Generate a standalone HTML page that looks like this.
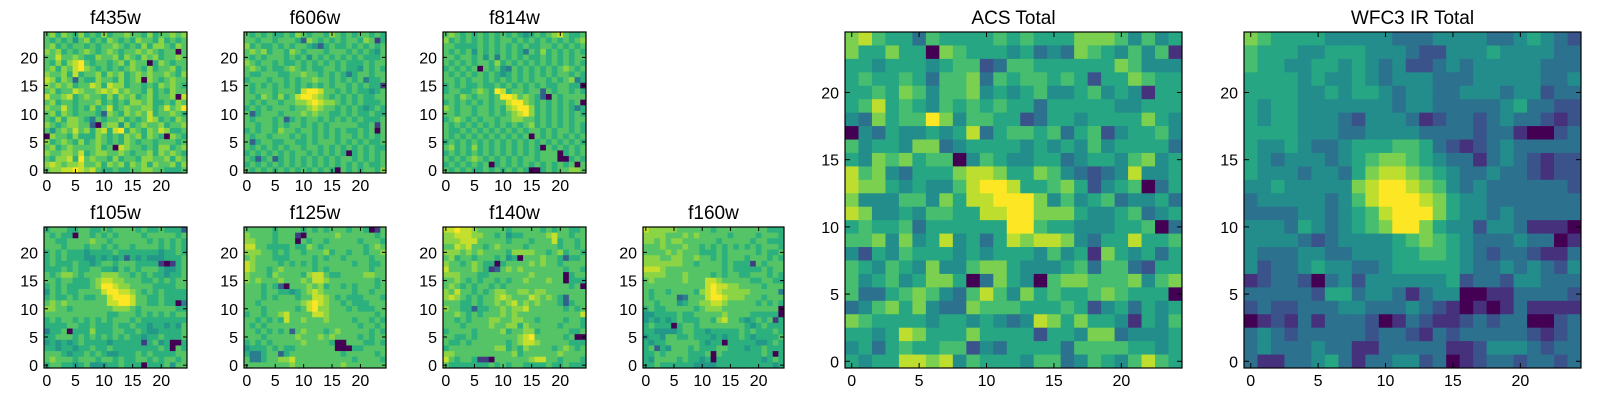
<!DOCTYPE html>
<html><head><meta charset="utf-8">
<style>
html,body{margin:0;padding:0;background:#fff;}
svg{display:block;font-family:"Liberation Sans",sans-serif;}
</style></head>
<body>
<svg id="fig" width="1600" height="400" viewBox="0 0 1600 400" xmlns="http://www.w3.org/2000/svg"></svg>
<script>
// Each panel: 25 rows (top row = y 24 ... bottom row = y 0), digits 0..9 = relative intensity
const tickValues = [0, 5, 10, 15, 20];
const bigTickValues = [0, 5, 10, 15, 20];
const panelTitles = ["f435w","f606w","f814w","f105w","f125w","f140w","f160w","ACS Total","WFC3 IR Total"];

const f435w = [
"6757657565756676657566767","6565646756576565766575656","6756566565667656575776576","7675656765676566767656606","6686676557667576576756676",
"6575789656656757660576566","6757689765656567657566756","7667585667576756767667657","8757626557665756707656766","7676756687587756656576765",
"6756687667878676657565766","8667856766575767567566708","6756656667565657767556576","7668656575685676677568679","6757656665276576768566765",
"6575776536566756568756576","7656776620677475676675667","6467686757858957657687556","0766575557656576757650765","7567657567656576566566656",
"6756766667560876656577567","7667768567766765667576765","6577859676657566577667576","7876778667576757675766757","6778898786556556677665556"];
const f606w = [
"6565655657656657656566565","6656656665276565656657615","7565565656654256556565656","6767566576566656665656546","6565666565646565656565556",
"7656656556565656565556566","6765655676565566565546565","6556665566766565653566566","5666566565667665656563556","6565656565656565665656551",
"6566656665899866565655456","6657657568998765656565566","6565665667789877656565556","5656566656678766565654565","6256665666767665565655655",
"6566656256566565656565556","6656656566565656666655616","5656657665665656565565606","6566566656565656566565656","6256655665565666565656556",
"6565656566566565656565655","5656565656656565650565656","6525625656565656566565656","5656565656565656565656556","6565656565656565065656657"];
const f814w = [
"6765656565656545656786556","7565656565665656565656567","6655556565656565566565656","6565646565656536575656565","6656656463656565565656566",
"6565656657565656565656565","5656560656436565656567656","6565656565456565656566565","6656566565656565665656735","5656556556565656565566550",
"5665567659856656626566565","6657656656998676520656666","5656565656689976565656560","7656656656578997565656535","6656656656567897565656565",
"5676565665667766565656566","6565656565656567565656565","6556565656565656656566565","6565656565656560656565656","5656565656565656565656565",
"6756575656565656506565656","5656565656565656566605656","6565676565656566566600565","5656565605656565656565606","6565655656565650056566776"];
const f105w = [
"5666556655656666565565552","6565506656565666656666656","6655666676656666665656565","6665666566565665666656565","5656555455556555555545565",
"5656555445454525454445556","5655565545665666555510156","5556565566554656566654456","6567765666777665656554556","6656655567887766655656566",
"5656555567998776666555566","4656556666899887656565555","5655656556689998665565555","6767666666688998665565503","7766566666667776566666655",
"6666666666655666565656566","5656656565656665655555555","5555665565556556554554546","3556055575556655654455556","5566656565656565545565556",
"4545456555545555515645005","5545545565565555555565065","6665455656544555656555566","6766656665665655665656656","5665545644455655505556466"];
const f125w = [
"6666656666565656665665016","7666656661066666766666656","7766656660656656666656665","8866555565576566666665676","7776656566566675665665667",
"6766655566665656656666566","8766665656565666666566556","8766567666665656666666566","7666576666578865566667766","7676667666768876666666656",
"6665652066676756656566656","6665665545678766666566566","6665656665668876565556665","6656666666789876656555666","6665666665689776665655566",
"5665667866668876666666656","6656565866766676666566565","6565666666666666666656656","6656565626766656766666565","6665666667666767666656566",
"5656566666766665006665565","4555656556666666000556666","5335662566666666656666656","6335667786666666666566665","6666666676666666676666666"];
const f140w = [
"8898876666656666656566556","7788877665645566667866566","7778886666656665666856656","6687866567666656666656656","7776767666657777665675665",
"6756656665645066676652556","7665676550566667676656666","8666676512676766666665665","7776665566666667666660566","6676565665656676667660555",
"6765656656566666666666560","7686656567766776776666666","7876565667876668767652666","6665565667678676766652566","7665525566767786666665656",
"6676565666767666666666668","6656566677667766566665665","6665666676677576666656665","5666656666756677566666556","6655656666666789666665600",
"6556566666656788766666555","5666666667756576666567656","7766666666667566666676666","8656651106666667886656665","6555555565656655556556555"];
const f160w = [
"8777776666665666666666555","7777666767666665666656665","7767677666666566666566555","6667666766565656565656665","6666767666555656666656556",
"7776677667665656665666565","7777777665666656555165666","8887666666666656555556566","7777666766665656655666565","6766666766688766666556655",
"6666666666689887766665666","6566566665789877777666663","6566662366689987776665666","6656664566778876666656565","5655666665677766666666660",
"4455556556666676666555550","4545456555665786654565615","5655505665666666665456555","5544445665545555565655565","4554665565554545565455556",
"5455666666545505555544565","5625466656555665554556555","5565666655560655555556505","5466665655450555555554565","5565555554444555555555545"];
const acsTotal = [
"7865536555565655577764645","7557550765554534376546461","5545554566236655555576444","5655653667365665652557655","5565764667454564456454155",
"5685654656565535555544555","4375669746655235545555754","0435445458356656356245564","6455477345555454546455553","5476756604654455345546745",
"8674355578875576432348445","8775454468998556752456035","7444664758899974645634453","8744546655889977754456345","5655635555559965544455603",
"6674745845358788743558556","4254655545455546451754535","6546547446775444563663255","6456457750375406776667467","6335676436864756556765550",
"3467574337666555652453545","7655554554543487575541546","5545875557555525547734445","4535655662435555366665545","5455887846555466346546865"];
const wfc3Total = [
"7655554444433344443345432","6555445554443224445444433","6554455454342234344444333","5555454454344433344444334","5555445455434433444344233",
"5455444444434433333453322","5455444324443123323433212","5555444334444333323310023","5445433455566532123433333","5434443456776543313432122",
"5444344357887654334332122","4454444478998764343333332","3444443468999875443333333","3333443456899975443433333","4443543456799754424431110",
"4444323444456765433343301","4333443344455665432332113","4233454433455555433434324","1233203424444445233244333","3333325534431344001133332",
"2322333443334321010131111","0121313332013211232330023","3432333332332132333332123","3433343311333331124443233","3113345313344230123323323"];

const panelData = [f435w, f606w, f814w, f105w, f125w, f140w, f160w, acsTotal, wfc3Total];
const layout = [
 [44,32,143,141],[244,32,142,141],[443,32,143,141],
 [44,227,143,141],[244,227,142,141],[443,227,143,141],[643,227,141,141],
 [845,32,337,336],[1244,32,337,336]];

const NS = "http://www.w3.org/2000/svg";
const fig = document.getElementById("fig");
const stops = ["#440154","#472d7b","#3b528b","#2c728e","#21918c","#28ae80","#5ec962","#addc30","#fde725"];
function hex(c){return [parseInt(c.slice(1,3),16),parseInt(c.slice(3,5),16),parseInt(c.slice(5,7),16)];}
function viridis(t){
  t=Math.max(0,Math.min(1,t));
  const p=t*(stops.length-1), i=Math.min(stops.length-2,Math.floor(p)), f=p-i;
  const a=hex(stops[i]), b=hex(stops[i+1]);
  return "rgb("+a.map((v,k)=>Math.round(v+(b[k]-v)*f)).join(",")+")";
}
function mk(tag, attrs, parent){
  const e=document.createElementNS(NS,tag);
  for(const k in attrs) e.setAttribute(k,attrs[k]);
  (parent||fig).appendChild(e); return e;
}

panelData.forEach((rows, p) => {
  const [L,T,W,H] = layout[p];
  const big = p >= 7;
  const gamma = big ? 0.9 : 0.78;
  const n = 25;
  const xScale = v => L + (v + 0.5) / n * W;
  const yScale = v => T + (n - 0.5 - v) / n * H;
  const cw = W / n, ch = H / n;
  const g = mk("g", {});
  
  
  for (let r = 0; r < n; r++) {
    const row = rows[r] || "";
    const yv = n - 1 - r;
    for (let c = 0; c < n; c++) {
      const ch0 = row.charAt(c);
      const d = ch0 === "" ? 5 : parseInt(ch0, 10);
      const x0 = xScale(c - 0.5), y0 = yScale(yv + 0.5);
      const cell = mk("rect", {x: x0.toFixed(2), y: y0.toFixed(2), width: (cw + 0.4).toFixed(2), height: (ch + 0.4).toFixed(2), fill: viridis(Math.pow(d / 9, gamma))}, g);
      
      
    }
  }
  const frame = mk("rect", {x: L, y: T, width: W, height: H, fill: "none", stroke: "#000", "stroke-width": 1.2}, g);
  
  
  const ticks = big ? bigTickValues : tickValues;
  const tl = big ? 5 : 4;
  const fs = 16;
  ticks.forEach(t => {
    const x = xScale(t), y = yScale(t);
    mk("line", {x1: x, y1: T + H, x2: x, y2: T + H - tl, stroke: "#000"}, g);
    mk("line", {x1: x, y1: T, x2: x, y2: T + tl, stroke: "#000"}, g);
    mk("line", {x1: L, y1: y, x2: L + tl, y2: y, stroke: "#000"}, g);
    mk("line", {x1: L + W, y1: y, x2: L + W - tl, y2: y, stroke: "#000"}, g);
    const xt = mk("text", {x: x, y: T + H + 18, "font-size": fs, "text-anchor": "middle", fill: "#000"}, g);
    xt.textContent = t;
    
    
    const yt = mk("text", {x: L - 6, y: y + 6, "font-size": fs, "text-anchor": "end", fill: "#000"}, g);
    yt.textContent = t;
    
    
  });
  const title = mk("text", {x: L + W / 2, y: T - 8, "font-size": 19, "text-anchor": "middle", fill: "#000"}, g);
  title.textContent = panelTitles[p];
  
  
});
</script>
</body></html>
